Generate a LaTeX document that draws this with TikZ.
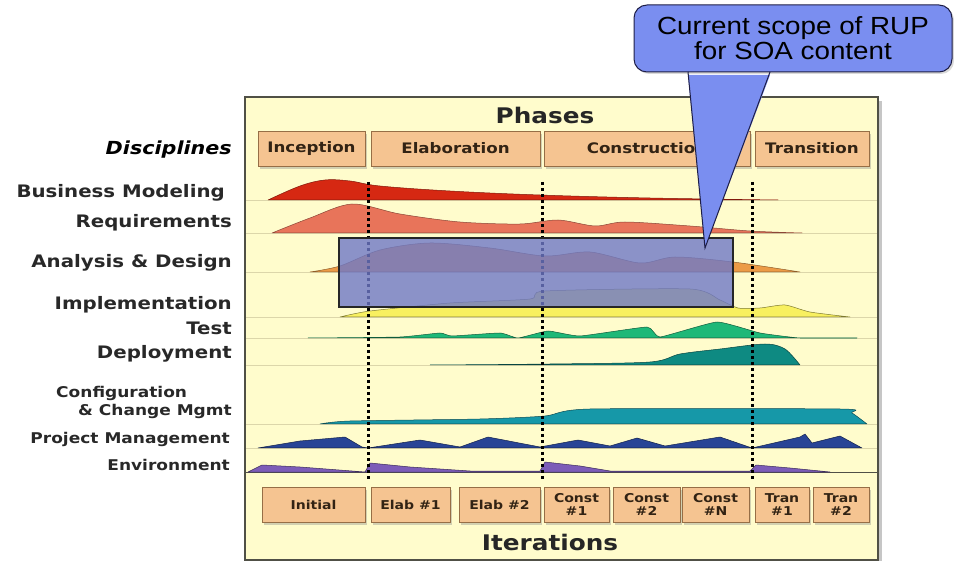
\documentclass[tikz,border=0pt]{standalone}
\usepackage{fontspec}
\setmainfont{DejaVu Sans}[FakeStretch=1.15]
\newfontfamily\calloutfont{Liberation Sans}[FakeStretch=1.12]
\usetikzlibrary{shadows}
\definecolor{panelfill}{RGB}{255,252,204}
\definecolor{paneledge}{RGB}{80,80,70}
\definecolor{boxfill}{RGB}{245,196,145}
\definecolor{boxedge}{RGB}{150,110,70}
\definecolor{boxtext}{RGB}{50,35,20}
\definecolor{labeltext}{RGB}{40,40,40}
\definecolor{baseln}{RGB}{220,214,170}
\definecolor{bmred}{RGB}{214,40,18}
\definecolor{reqsal}{RGB}{232,116,90}
\definecolor{adora}{RGB}{236,155,70}
\definecolor{implyel}{RGB}{248,240,96}
\definecolor{testgrn}{RGB}{30,184,120}
\definecolor{deptl}{RGB}{14,138,130}
\definecolor{cfgtl}{RGB}{22,152,168}
\definecolor{pmblue}{RGB}{40,68,150}
\definecolor{envpur}{RGB}{124,92,184}
\definecolor{scopeblue}{RGB}{110,120,200}
\definecolor{bubble}{RGB}{122,142,240}
\definecolor{bubbleedge}{RGB}{30,30,70}
\tikzset{
  hump/.style={line width=0.5pt, line join=round},
  phasebox/.style={draw=boxedge, fill=boxfill, line width=0.8pt, text=boxtext,
    minimum height=35pt, inner sep=0pt, align=center,
    drop shadow={shadow xshift=2pt, shadow yshift=-3pt, opacity=0.35}},
  phasetext/.style={font=\bfseries\fontsize{14.5}{16}\selectfont},
  itertext/.style={font=\bfseries\fontsize{12.2}{13}\selectfont},
  biglabel/.style={anchor=base east, text=labeltext, inner sep=0pt, font=\bfseries\fontsize{17.2}{19}\selectfont},
  smalllabel/.style={anchor=base east, text=labeltext, inner sep=0pt, font=\bfseries\fontsize{14.8}{16}\selectfont},
  title/.style={text=black!85, inner sep=0pt, font=\bfseries\fontsize{21.5}{24}\selectfont},
  dotline/.style={draw=black, line width=3pt, dash pattern=on 3pt off 3pt},
  baseln line/.style={draw=baseln, line width=0.6pt},
}
\begin{document}
\begin{tikzpicture}[x=1pt,y=-1pt]
\useasboundingbox (0,0) rectangle (954,561);
% panel
\fill[gray!45] (249,101) rectangle (882,561);
\node[draw=paneledge, fill=panelfill, line width=1.2pt, minimum width=633pt, minimum height=463pt, inner sep=0pt] (panel) at (561.5,328.5) {};
% baselines
\foreach \yy in {200,233,272,317,338,365,424,448}
  \draw[baseln line] (246,\yy) -- (877,\yy);
\draw[paneledge, line width=1pt] (245,472) -- (878,472);
% humps
\filldraw[hump, fill=bmred, draw=bmred!60!black] plot[smooth, tension=0.6] coordinates {(268,200) (300,186) (325,180) (350,181) (380,186) (450,191) (540,195) (650,198) (778,200)} -- cycle;
\filldraw[hump, fill=reqsal, draw=reqsal!60!black] plot[smooth, tension=0.5] coordinates {(272,233) (310,218) (352,204) (400,214) (460,222) (520,224) (558,220) (595,226) (625,222) (690,226) (750,231) (802,233)} -- cycle;
\filldraw[hump, fill=adora, draw=adora!60!black] plot[smooth, tension=0.5] coordinates {(310,272) (340,266) (380,250) (430,243) (490,248) (545,256) (590,252) (640,263) (675,257) (733,262) (800,272)} -- cycle;
\filldraw[hump, fill=implyel, draw=implyel!50!black] plot[smooth, tension=0.4] coordinates {(340,317) (370,311) (450,303) (530,299) (545,291) (690,289) (720,300) (738,308) (760,308) (785,305) (810,312) (850,317)} -- cycle;
\filldraw[hump, fill=testgrn, draw=testgrn!50!black] plot[smooth, tension=0.25] coordinates {(308,338) (400,337) (440,333) (452,336) (500,333) (518,338) (548,331) (580,336) (647,327) (660,337) (717,322) (760,333) (800,338) (857,338)} -- cycle;
\filldraw[hump, fill=deptl, draw=deptl!50!black] plot[smooth, tension=0.5] coordinates {(430,365) (550,364) (650,362) (680,354) (720,349) (765,344) (785,349) (800,365)} -- cycle;
\filldraw[hump, fill=cfgtl, draw=cfgtl!50!black] plot[smooth, tension=0.4] coordinates {(320,424) (350,421) (480,419) (545,416) (590,409) (840,409) (852,413) (867,424)} -- cycle;
\filldraw[hump, fill=pmblue, draw=pmblue!50!black] (258,448) -- (300,441) -- (345,437) -- (362,447) -- (368,448) -- (420,440) -- (460,447) -- (488,437) -- (540,447) -- (578,440) -- (610,446) -- (637,438) -- (665,446) -- (720,437) -- (752,448) -- (800,437) -- (805,434) -- (812,443) -- (840,436) -- (862,448) -- cycle;
\filldraw[hump, fill=envpur, draw=envpur!50!black] (248,472) -- (262,465) -- (300,467) -- (365,472) -- (370,463) -- (410,467) -- (470,471) -- (540,471) -- (545,462) -- (580,466) -- (610,471) -- (750,471) -- (756,465) -- (790,468) -- (830,472) -- cycle;
% iteration boundaries
\coordinate (d1t) at (368,182); \coordinate (d1b) at (368,479);
\coordinate (d2t) at (542,182); \coordinate (d2b) at (542,479);
\coordinate (d3t) at (752,182); \coordinate (d3b) at (752,479);
\draw[dotline] (d1t) -- (d1b);
\draw[dotline] (d2t) -- (d2b);
\draw[dotline] (d3t) -- (d3b);
% scope rectangle
\node[draw=black!85, fill=scopeblue, fill opacity=0.8, line width=1.3pt, minimum width=394pt, minimum height=69pt, inner sep=0pt] (scope) at (536,272.5) {};
% titles
\node[title] (phases) at (545,115) {Phases};
\node[title] (iters) at (550,542) {Iterations};
% phase boxes
\node[phasebox, phasetext, minimum width=107pt] (inc) at (311.5,148.5) {Inception};
\node[phasebox, phasetext, minimum width=169pt] (ela) at (455.5,148.5) {Elaboration};
\node[phasebox, phasetext, minimum width=206pt] (con) at (647,148.5) {Construction};
\node[phasebox, phasetext, minimum width=114pt] (tra) at (812,148.5) {Transition};
% iteration boxes
\node[phasebox, itertext, minimum width=103pt] (it1) at (313.5,504.5) {Initial};
\node[phasebox, itertext, minimum width=79pt] (it2) at (410.5,504.5) {Elab \#1};
\node[phasebox, itertext, minimum width=81pt] (it3) at (499.5,504.5) {Elab \#2};
\node[phasebox, itertext, minimum width=65pt] (it4) at (576.5,504.5) {Const\\\#1};
\node[phasebox, itertext, minimum width=67pt] (it5) at (646.5,504.5) {Const\\\#2};
\node[phasebox, itertext, minimum width=67pt] (it6) at (715.5,504.5) {Const\\\#N};
\node[phasebox, itertext, minimum width=54pt] (it7) at (782,504.5) {Tran\\\#1};
\node[phasebox, itertext, minimum width=56pt] (it8) at (841,504.5) {Tran\\\#2};
% discipline labels
\node[anchor=base east, text=black, inner sep=0pt, font=\bfseries\itshape\fontsize{18}{20}\selectfont] (disc) at (232,155) {Disciplines};
\node[biglabel] (lbm) at (225,198) {Business Modeling};
\node[biglabel] (lreq) at (232,228) {Requirements};
\node[biglabel] (lad) at (232,268) {Analysis \& Design};
\node[biglabel] (limp) at (232,310) {Implementation};
\node[biglabel] (ltest) at (232,335) {Test};
\node[biglabel] (ldep) at (232,359) {Deployment};
\node[smalllabel, anchor=base west] (lcfg) at (56,398) {Configuration};
\node[smalllabel] (lchg) at (232,416) {\& Change Mgmt};
\node[smalllabel] (lpm) at (230,444) {Project Management};
\node[smalllabel] (lenv) at (230,471) {Environment};
% callout
\node[draw=bubbleedge, fill=bubble, line width=1pt, rounded corners=13pt, minimum width=318pt, minimum height=67pt, inner sep=0pt, align=center,
  font=\calloutfont\fontsize{24.8}{25}\selectfont, text=black,
  drop shadow={shadow xshift=2pt, shadow yshift=-2pt, opacity=0.3}] (callout) at (793,38.5) {Current scope of RUP\\for SOA content};
\coordinate (tip) at (705,248);
\coordinate (pl) at (688,72);
\coordinate (pr) at (770,72);
\fill[bubble] ([yshift=-3pt]pl) -- ([yshift=-3pt]pr) -- (tip) -- cycle;
\draw[bubbleedge, line width=1pt, line join=miter] (pl) -- (tip) -- (pr);
\end{tikzpicture}
\end{document}
